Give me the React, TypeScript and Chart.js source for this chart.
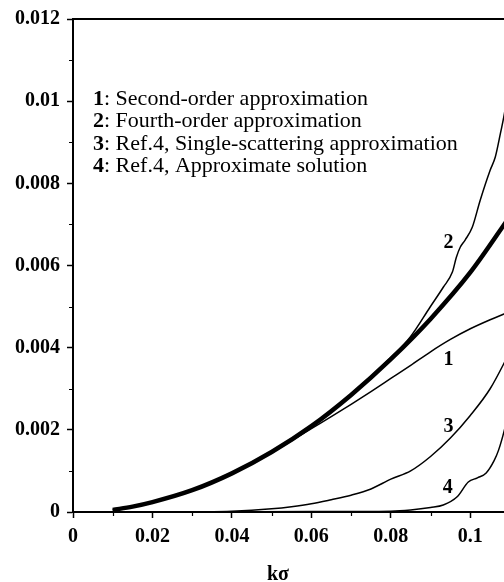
import React, { useEffect, useRef } from "react";
import { Chart, registerables } from "chart.js";

Chart.register(...registerables);

// Reference (thick) curve
const kRef = [0.01, 0.015, 0.02, 0.03, 0.04, 0.05, 0.06, 0.07, 0.08, 0.09, 0.1, 0.11];
const yRef = [0.00005, 0.00013, 0.00024, 0.00053, 0.00094, 0.00146, 0.00209, 0.00285, 0.00372, 0.0047, 0.00583, 0.0072];

// 1: Second-order approximation
const kSecond = [0.01, 0.02, 0.03, 0.04, 0.05, 0.06, 0.065, 0.07, 0.075, 0.08, 0.085, 0.09, 0.095, 0.1, 0.105, 0.11];
const ySecond = [0.00005, 0.00024, 0.00053, 0.00093, 0.00144, 0.00203, 0.00232, 0.00262, 0.00293, 0.00325, 0.00357, 0.0039, 0.0042, 0.00446, 0.00468, 0.00488];

// 2: Fourth-order approximation
const kFourth = [0.01, 0.02, 0.03, 0.04, 0.05, 0.06, 0.07, 0.08, 0.0849, 0.0899, 0.0932, 0.0955, 0.0965, 0.0975, 0.0987, 0.1005, 0.1025, 0.105, 0.1063, 0.1076, 0.1086, 0.1095];
const yFourth = [0.00005, 0.00024, 0.00053, 0.00094, 0.00146, 0.0021, 0.00287, 0.00376, 0.00426, 0.00499, 0.00547, 0.00584, 0.0062, 0.00645, 0.00662, 0.00693, 0.00759, 0.00832, 0.00864, 0.00922, 0.0097, 0.0103];

// 3: Ref.4, single-scattering approximation
const kSingle = [0.03, 0.04, 0.05, 0.055, 0.06, 0.065, 0.07, 0.075, 0.08, 0.085, 0.09, 0.095, 0.1, 0.105, 0.11];
const ySingle = [0.0, 0.00002, 0.00008, 0.00013, 0.0002, 0.0003, 0.00041, 0.00056, 0.0008, 0.001, 0.00135, 0.0018, 0.00235, 0.003, 0.0039];

// 4: Ref.4, approximate solution
const kApprox = [0.04, 0.06, 0.08, 0.085, 0.09, 0.0932, 0.0967, 0.0995, 0.1018, 0.104, 0.106, 0.1071, 0.1086, 0.11];
const yApprox = [0.0, 0.00001, 0.00002, 0.00005, 0.00011, 0.00017, 0.00037, 0.00073, 0.00083, 0.00095, 0.00125, 0.0015, 0.002, 0.0026];

// Axis ticks
const xMajorTicks = [0, 0.02, 0.04, 0.06, 0.08, 0.1];
const xMinorTicks = [0.01, 0.03, 0.05, 0.07, 0.09, 0.11];
const yMajorTicks = [0, 0.002, 0.004, 0.006, 0.008, 0.01, 0.012];
const yMinorTicks = [0.001, 0.003, 0.005, 0.007, 0.009, 0.011];
const xTickLabels = ["0", "0.02", "0.04", "0.06", "0.08", "0.1"];
const yTickLabels = ["0", "0.002", "0.004", "0.006", "0.008", "0.01", "0.012"];

// Legend block
const legendNumbers = ["1", "2", "3", "4"];
const legendTexts = [
  "Second-order approximation",
  "Fourth-order approximation",
  "Ref.4, Single-scattering approximation",
  "Ref.4, Approximate solution",
];

// Curve number labels placed next to each curve
const curveLabelText = ["1", "2", "3", "4"];
const curveLabelK = [0.0945, 0.0945, 0.0945, 0.0943];
const curveLabelY = [0.0037, 0.00654, 0.00207, 0.00058];

const xTitle = "kσ";

const SERIF = "'Liberation Serif', 'Times New Roman', serif";

const pts = (ks: number[], ys: number[]) => ks.map((k, i) => ({ x: k, y: ys[i] }));

const decorPlugin = {
  id: "decor",
  afterDraw(chart: any) {
    const { ctx, chartArea, scales } = chart;
    const xs = scales.x;
    const ys = scales.y;
    ctx.save();
    ctx.strokeStyle = "#000";
    ctx.fillStyle = "#000";

    // top and right frame lines
    ctx.lineWidth = 2;
    ctx.beginPath();
    ctx.moveTo(chartArea.left - 1, chartArea.top);
    ctx.lineTo(chartArea.right + 1, chartArea.top);
    ctx.moveTo(chartArea.right, chartArea.top);
    ctx.lineTo(chartArea.right, chartArea.bottom);
    ctx.stroke();

    // minor ticks
    ctx.lineWidth = 1.2;
    ctx.beginPath();
    yMinorTicks.forEach((v) => {
      const py = Math.round(ys.getPixelForValue(v)) + 0.5;
      ctx.moveTo(chartArea.left - 4, py);
      ctx.lineTo(chartArea.left, py);
    });
    xMinorTicks.forEach((v) => {
      const px = Math.round(xs.getPixelForValue(v)) + 0.5;
      ctx.moveTo(px, chartArea.bottom);
      ctx.lineTo(px, chartArea.bottom + 4);
    });
    ctx.stroke();

    // legend text
    const lx = chartArea.left + 20;
    const ly0 = chartArea.top + 80;
    const lh = 22.5;
    ctx.textBaseline = "middle";
    ctx.textAlign = "left";
    legendNumbers.forEach((n, i) => {
      const y = ly0 + i * lh;
      ctx.font = `bold 22px ${SERIF}`;
      ctx.fillText(n, lx, y);
      const w = ctx.measureText(n).width;
      ctx.font = `22px ${SERIF}`;
      ctx.fillText(": " + legendTexts[i], lx + w, y);
    });

    // curve labels
    ctx.font = `bold 20px ${SERIF}`;
    ctx.textAlign = "center";
    curveLabelText.forEach((t, i) => {
      ctx.fillText(t, xs.getPixelForValue(curveLabelK[i]), ys.getPixelForValue(curveLabelY[i]));
    });

    // x axis title
    ctx.font = `bold 20px ${SERIF}`;
    ctx.textAlign = "center";
    ctx.fillText(xTitle, chartArea.left + 205, chartArea.bottom + 63);
    ctx.restore();
  },
};

export default function App() {
  const ref = useRef<HTMLCanvasElement>(null);

  useEffect(() => {
    if (!ref.current) return;
    const thin = { borderColor: "#000", borderWidth: 1.5, pointRadius: 0, fill: false, tension: 0.4, cubicInterpolationMode: "monotone" as const };
    const chart = new Chart(ref.current, {
      type: "line",
      data: {
        datasets: [
          { label: "ref", data: pts(kRef, yRef), ...thin, borderWidth: 4.5 },
          { label: "1", data: pts(kSecond, ySecond), ...thin },
          { label: "2", data: pts(kFourth, yFourth), ...thin },
          { label: "3", data: pts(kSingle, ySingle), ...thin },
          { label: "4", data: pts(kApprox, yApprox), ...thin },
        ],
      },
      options: {
        animation: false,
        responsive: false,
        events: [],
        layout: { padding: { top: 19, right: 2, left: 0, bottom: 0 } },
        plugins: { legend: { display: false }, tooltip: { enabled: false } },
        scales: {
          x: {
            type: "linear",
            min: 0,
            max: 0.11,
            afterBuildTicks: (s: any) => {
              s.ticks = xMajorTicks.map((v) => ({ value: v }));
            },
            afterFit: (s: any) => {
              s.height = 70;
            },
            ticks: {
              color: "#000",
              padding: 7,
              maxRotation: 0,
              autoSkip: false,
              font: { family: SERIF, size: 20, weight: "bold" },
              callback: (_v: any, i: number) => xTickLabels[i],
            },
            grid: { drawOnChartArea: false, tickLength: 6, color: "#000", tickWidth: 1.5 },
            border: { display: true, color: "#000", width: 2 },
          },
          y: {
            type: "linear",
            min: 0,
            max: 0.012,
            afterBuildTicks: (s: any) => {
              s.ticks = yMajorTicks.map((v) => ({ value: v }));
            },
            afterFit: (s: any) => {
              s.width = 73;
            },
            ticks: {
              color: "#000",
              padding: 7,
              autoSkip: false,
              font: { family: SERIF, size: 20, weight: "bold" },
              callback: (_v: any, i: number) => yTickLabels[i],
            },
            grid: { drawOnChartArea: false, tickLength: 6, color: "#000", tickWidth: 1.5 },
            border: { display: true, color: "#000", width: 2 },
          },
        },
      },
      plugins: [decorPlugin],
    });
    return () => chart.destroy();
  }, []);

  return (
    <div style={{ position: "absolute", left: 0, top: 0, width: 504, height: 582, overflow: "hidden", background: "#fff" }}>
      <canvas ref={ref} width={512} height={582} style={{ display: "block", width: 512, height: 582 }} />
    </div>
  );
}
